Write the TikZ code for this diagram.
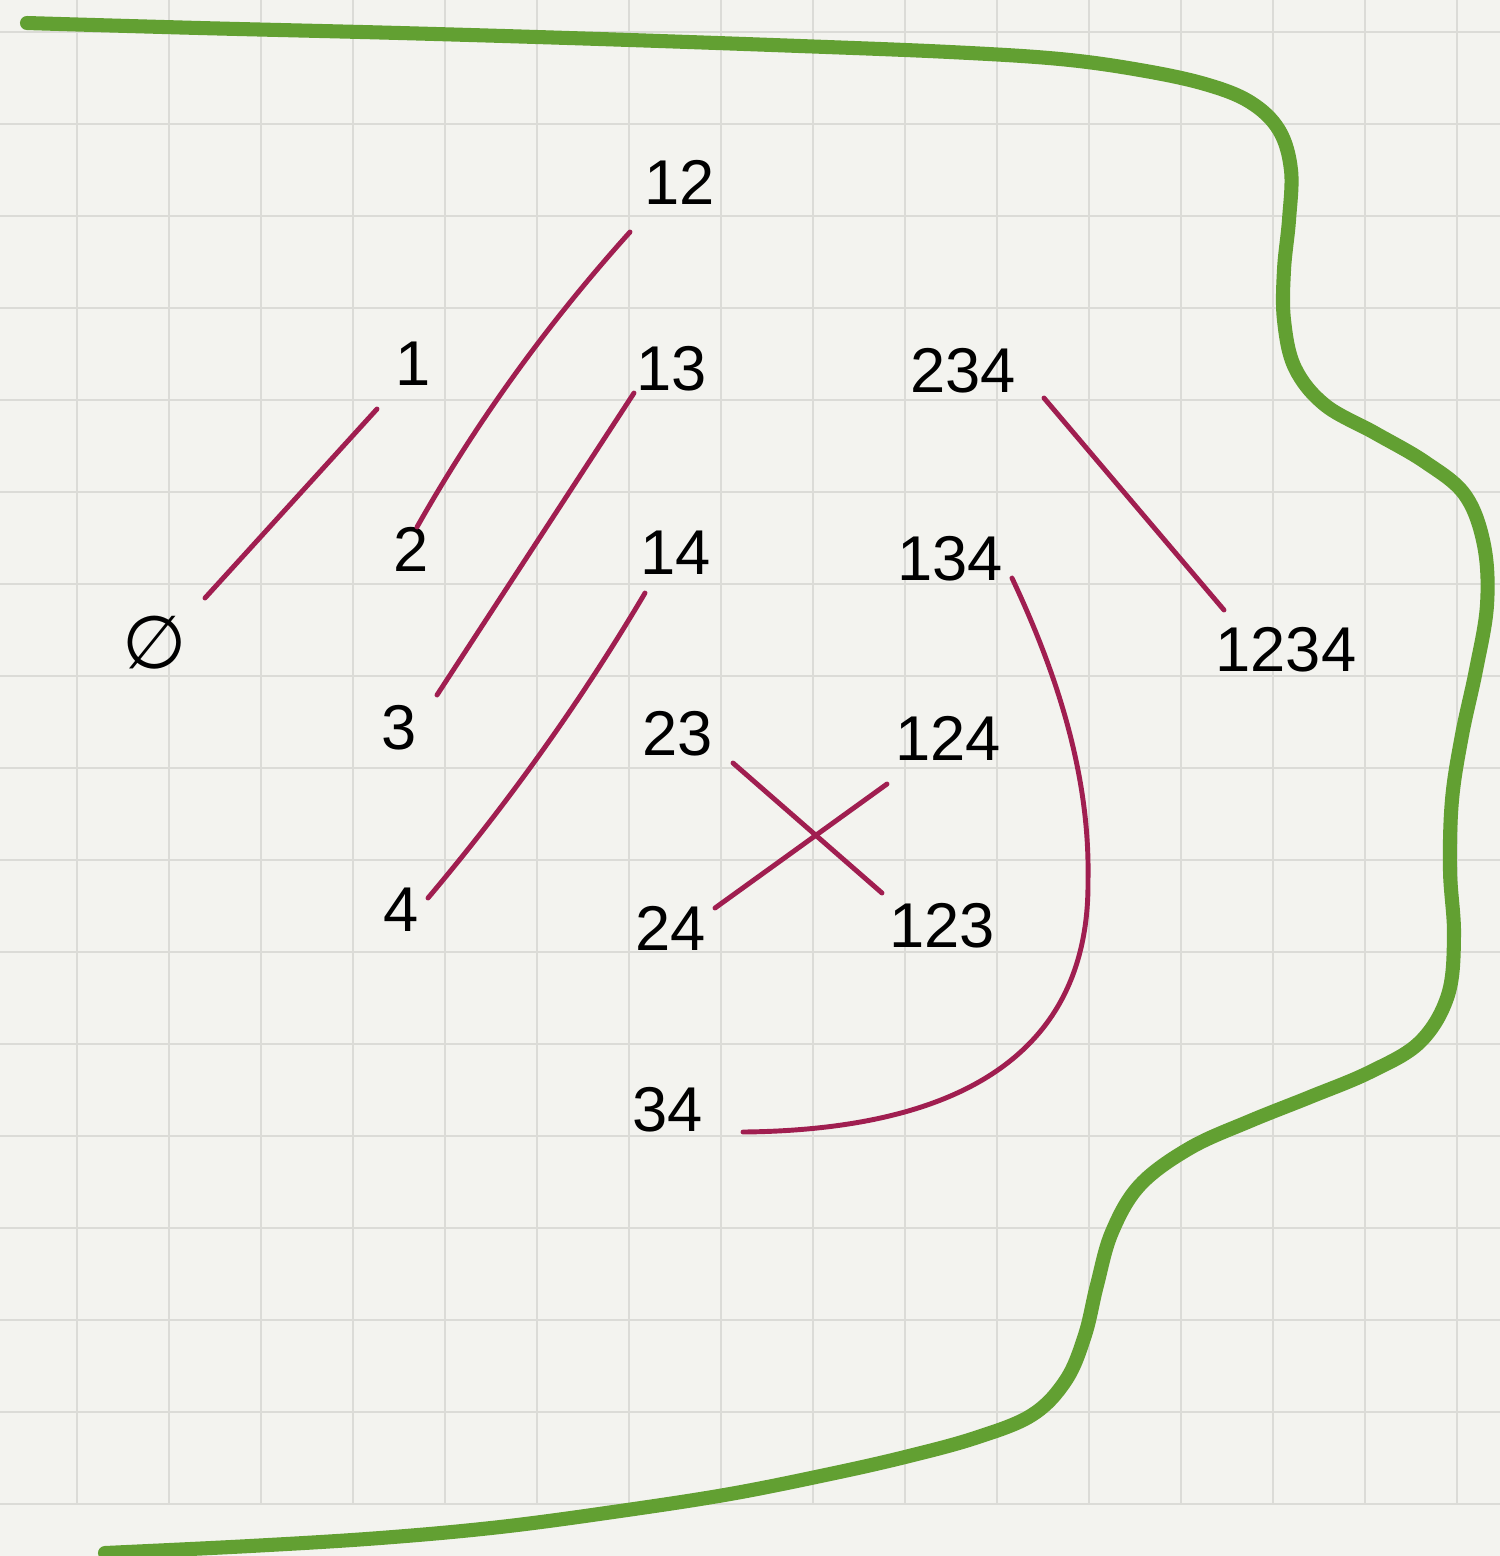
\documentclass[tikz,border=0pt]{standalone}
\usepackage{fontspec}
\setmainfont{Liberation Sans}
\newfontfamily\symfam{DejaVu Sans}
\usetikzlibrary{calc}
\definecolor{paper}{RGB}{243,243,239}
\definecolor{gridc}{RGB}{219,219,215}
\definecolor{linkred}{RGB}{160,30,80}
\definecolor{penGreen}{RGB}{98,160,50}
\begin{document}
\begin{tikzpicture}[x=0.01cm,y=-0.01cm,
  lbl/.style={font=\fontsize{18}{18}\selectfont, inner sep=0pt, text=black},
  edge/.style={draw=linkred, line width=1.4pt, line cap=round},
  gridline/.style={draw=gridc, line width=0.6pt},
  boundary/.style={draw=penGreen, line width=4pt, line cap=round, line join=round}]
\fill[paper] (0,0) rectangle (1500,1556);
\useasboundingbox (0,0) rectangle (1500,1556);
% grid paper
\foreach \i in {0,...,15} \draw[gridline] ({77+92*\i},0) -- ({77+92*\i},1504);
\foreach \j in {0,...,16} \draw[gridline] (0,{32+92*\j}) -- (1500,{32+92*\j});
% green boundary
\draw[boundary] plot[smooth, tension=0.6] coordinates {
 (27,23) (200,28) (400,33) (600,39) (800,46) (950,52) (1060,59) (1140,70)
 (1205,84) (1250,102) (1279,130) (1291,170) (1289,220) (1284,270) (1284,320)
 (1295,368) (1325,405) (1375,433) (1425,462) (1465,495) (1484,545) (1487,605)
 (1476,670) (1462,735) (1452,800) (1450,870) (1454,935) (1448,995) (1420,1042)
 (1370,1072) (1310,1097) (1250,1121) (1190,1148) (1140,1185) (1112,1232)
 (1097,1285) (1085,1335) (1066,1380) (1032,1415) (975,1438) (905,1457)
 (830,1474) (730,1494) (620,1511) (500,1527) (380,1538) (250,1546) (105,1553)};
% labels
\node[lbl, font=\symfam\fontsize{21}{21}\selectfont] (n0) at (155,643) {∅};
\node[lbl] (n1) at (413,364) {1};
\node[lbl] (n2) at (411,549) {2};
\node[lbl] (n3) at (399,728) {3};
\node[lbl] (n4) at (401,910) {4};
\node[lbl] (n12) at (680,182) {12};
\node[lbl] (n13) at (672,369) {13};
\node[lbl] (n14) at (676,553) {14};
\node[lbl] (n23) at (678,734) {23};
\node[lbl] (n24) at (671,928) {24};
\node[lbl] (n34) at (668,1110) {34};
\node[lbl] (n234) at (963,371) {234};
\node[lbl] (n134) at (950,559) {134};
\node[lbl] (n124) at (948,738) {124};
\node[lbl] (n123) at (942,926) {123};
\node[lbl] (n1234) at (1286,650) {1234};
% connectors
\draw[edge] ($(n0.center)+(50,-45)$) -- ($(n1.center)+(-36,45)$);
\draw[edge] ($(n2.center)+(6,-22)$) .. controls (477,421) and (548,323) .. ($(n12.center)+(-50,50)$);
\draw[edge] ($(n3.center)+(38,-33)$) -- ($(n13.center)+(-38,24)$);
\draw[edge] ($(n4.center)+(27,-12)$) .. controls (509,802) and (581,701) .. ($(n14.center)+(-31,40)$);
\draw[edge] ($(n23.center)+(55,29)$) -- ($(n123.center)+(-60,-33)$);
\draw[edge] ($(n24.center)+(44,-20)$) -- ($(n124.center)+(-61,46)$);
\draw[edge] ($(n234.center)+(81,27)$) -- ($(n1234.center)+(-62,-40)$);
\draw[edge] ($(n134.center)+(62,19)$) .. controls (1060,680) and (1090,780) .. (1088,880)
  .. controls (1090,1060) and (950,1130) .. ($(n34.center)+(75,22)$);
\end{tikzpicture}
\end{document}
